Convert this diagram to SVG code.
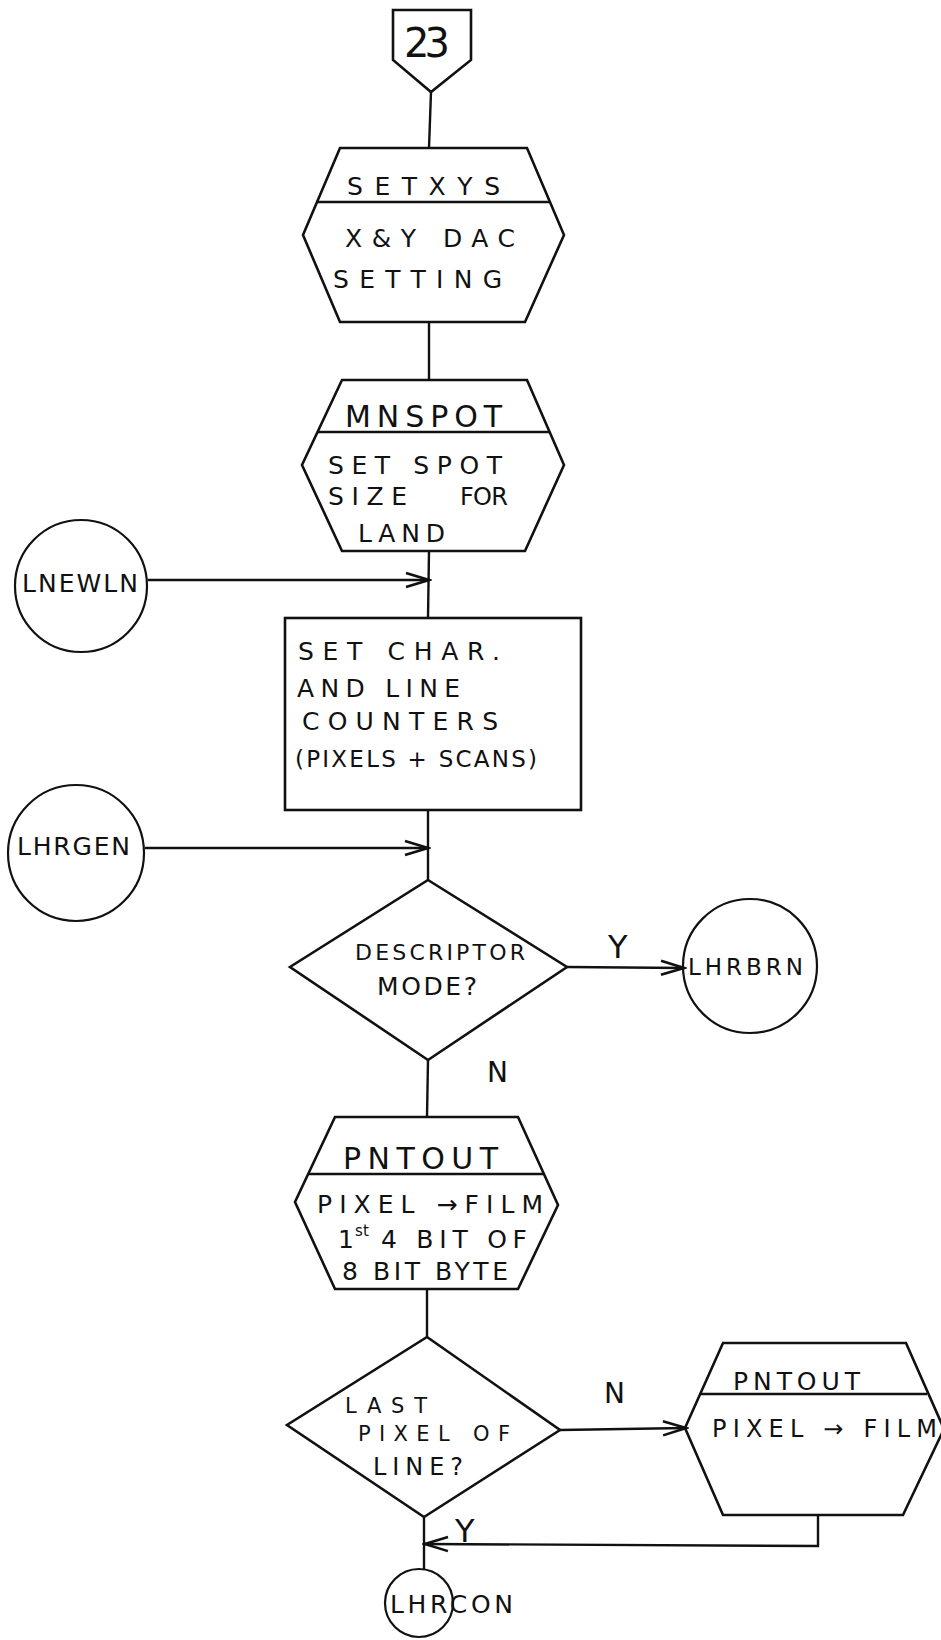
<svg xmlns="http://www.w3.org/2000/svg" width="941" height="1640" viewBox="0 0 941 1640">
  <style>
    .shape { fill: none; stroke: #111; stroke-width: 2.6; stroke-linejoin: miter; }
    .circ { fill: none; stroke: #111; stroke-width: 2.2; }
    .conn { fill: none; stroke: #111; stroke-width: 2.4; }
    .arrow { marker-end: url(#chev); }
    text { font-family: "DejaVu Sans", "Liberation Sans", sans-serif; fill: #111; font-size: 25px; }
    .big { font-size: 30px; }
    .lbl { font-size: 32px; }
    .tight { font-size: 21px; }
  </style>
  <defs>
    <marker id="chev" markerUnits="userSpaceOnUse" markerWidth="28" markerHeight="20" refX="25" refY="9" orient="auto">
      <path d="M2,2 L25,9 L2,16" fill="none" stroke="#111" stroke-width="2.6"/>
    </marker>
  </defs>
  <rect width="941" height="1640" fill="#fff"/>

  <!-- flow lines, with their Y / N branch labels -->
  <g id="connectors">
    <line class="conn" x1="431" y1="92" x2="429" y2="148"/>
    <line class="conn" x1="429" y1="322" x2="429" y2="380"/>
    <line class="conn" x1="429" y1="551" x2="428" y2="618"/>
    <line class="conn arrow" x1="148" y1="580" x2="429" y2="580"/>
    <line class="conn" x1="428" y1="810" x2="428" y2="880"/>
    <line class="conn arrow" x1="145" y1="848" x2="428" y2="848"/>
    <line class="conn arrow" x1="567" y1="967" x2="684" y2="968"/>
    <line class="conn" x1="428" y1="1060" x2="427" y2="1117"/>
    <line class="conn" x1="427" y1="1289" x2="427" y2="1337"/>
    <line class="conn arrow" x1="560" y1="1430" x2="686" y2="1428"/>
    <line class="conn" x1="424" y1="1517" x2="424" y2="1569"/>
    <polyline class="conn arrow" points="818,1515 818,1546 425,1544"/>
    <text x="608" y="958" class="lbl" textLength="24">Y</text>
    <text x="487" y="1082" style="font-size:28px" textLength="22">N</text>
    <text x="604" y="1403" style="font-size:28px" textLength="20">N</text>
    <text x="455" y="1542" class="lbl" textLength="26">Y</text>
  </g>

  <g id="node-23">
    <polygon class="shape" points="393,10 471,10 471,60 431,92 393,60"/>
    <text x="404" y="57" style="font-size:40px" textLength="46">23</text>
  </g>

  <g id="node-setxys">
    <polygon class="shape" points="340,148 527,148 564,235 525,322 340,322 303,235"/>
    <line class="shape" x1="316" y1="202" x2="549" y2="202"/>
    <text x="347" y="195" textLength="153">SETXYS</text>
    <text x="345" y="247" textLength="170">X&amp;Y DAC</text>
    <text x="333" y="288" textLength="169">SETTING</text>
  </g>

  <g id="node-mnspot">
    <polygon class="shape" points="342,380 527,380 564,465 525,551 342,551 302,465"/>
    <line class="shape" x1="318" y1="432" x2="549" y2="432"/>
    <text x="345" y="427" class="big" textLength="157">MNSPOT</text>
    <text x="328" y="474" textLength="174">SET SPOT</text>
    <text x="328" y="505" textLength="79">SIZE</text>
    <text x="460" y="505" style="font-size:24px" textLength="48">FOR</text>
    <text x="358" y="542" textLength="87">LAND</text>
  </g>

  <g id="node-lnewln">
    <circle class="circ" cx="81" cy="586" r="66"/>
    <text x="22" y="592" textLength="116">LNEWLN</text>
  </g>

  <g id="node-counters">
    <rect class="shape" x="285" y="618" width="296" height="192"/>
    <text x="298" y="660" textLength="202">SET  CHAR.</text>
    <text x="297" y="697" textLength="163">AND LINE</text>
    <text x="302" y="730" textLength="196">COUNTERS</text>
    <text x="295" y="767" style="font-size:23px" textLength="242">(PIXELS + SCANS)</text>
  </g>

  <g id="node-lhrgen">
    <circle class="circ" cx="76" cy="853" r="68"/>
    <text x="17" y="855" textLength="113">LHRGEN</text>
  </g>

  <g id="node-descriptor">
    <polygon class="shape" points="428,880 567,967 428,1060 290,967"/>
    <text x="355" y="960" style="font-size:22px" textLength="170">DESCRIPTOR</text>
    <text x="377" y="995" textLength="100">MODE?</text>
  </g>

  <g id="node-lhrbrn">
    <circle class="circ" cx="750" cy="966" r="67"/>
    <text x="688" y="975" style="font-size:23px" textLength="115">LHRBRN</text>
  </g>

  <g id="node-pntout-1">
    <polygon class="shape" points="335,1117 518,1117 558,1205 518,1289 335,1289 295,1202"/>
    <line class="shape" x1="309" y1="1174" x2="544" y2="1174"/>
    <text x="343" y="1169" class="big" textLength="155">PNTOUT</text>
    <text x="317" y="1213" style="font-size:25px" textLength="226">PIXEL →FILM</text>
    <text x="338" y="1248" textLength="16">1</text>
    <text x="355" y="1236" style="font-size:15px" textLength="14">st</text>
    <text x="381" y="1248" textLength="146">4 BIT OF</text>
    <text x="342" y="1280" textLength="166">8 BIT  BYTE</text>
  </g>

  <g id="node-lastpixel">
    <polygon class="shape" points="427,1337 560,1430 424,1517 287,1425"/>
    <text x="345" y="1413" class="tight" textLength="82">LAST</text>
    <text x="358" y="1441" class="tight" textLength="152">PIXEL OF</text>
    <text x="373" y="1475" style="font-size:24px" textLength="90">LINE?</text>
  </g>

  <g id="node-pntout-2">
    <polygon class="shape" points="723,1343 906,1343 944,1429 903,1515 723,1515 685,1428"/>
    <line class="shape" x1="700" y1="1394" x2="927" y2="1394"/>
    <text x="733" y="1390" textLength="127">PNTOUT</text>
    <text x="712" y="1437" style="font-size:24px" textLength="225">PIXEL → FILM</text>
  </g>

  <g id="node-lhrcon">
    <circle class="circ" cx="419" cy="1603" r="34"/>
    <text x="390" y="1613" style="font-size:25px" textLength="123">LHRCON</text>
  </g>
</svg>
